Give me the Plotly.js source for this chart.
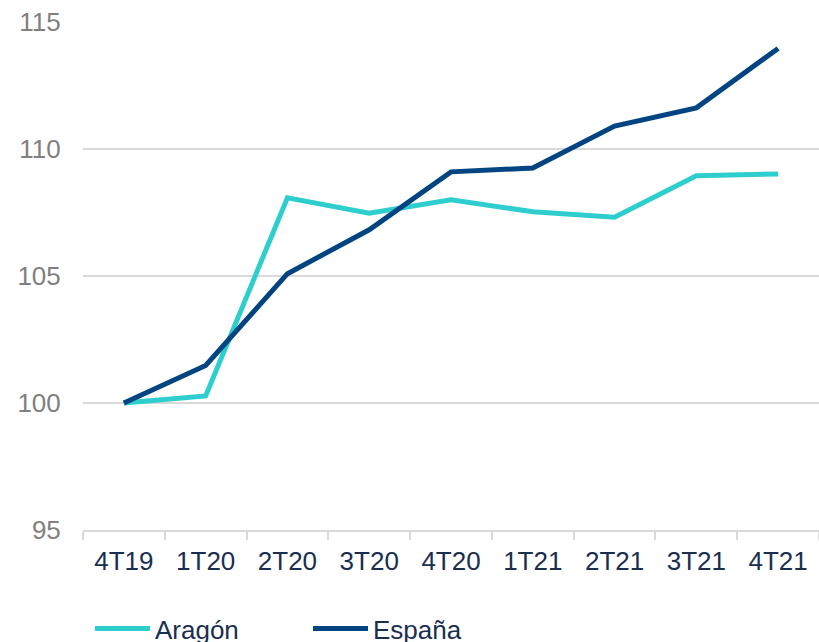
<!DOCTYPE html>
<html>
<head>
<meta charset="utf-8">
<script src="https://cdn.plot.ly/plotly-3.0.1.min.js"></script>
<style>html,body{margin:0;padding:0;background:#fff;}#chart{width:819px;height:642px;}</style>
</head>
<body>
<div id="chart"></div>
<script>
const categories = ["4T19","1T20","2T20","3T20","4T20","1T21","2T21","3T21","4T21"];
const aragon = [100.0, 100.28, 108.08, 107.47, 108.0, 107.53, 107.31, 108.95, 109.02];
const espana = [100.0, 101.48, 105.09, 106.82, 109.1, 109.25, 110.9, 111.62, 113.96];
const yTicks = [95, 100, 105, 110, 115];

const font = "Liberation Sans, Arial, sans-serif";
const traces = [
  {x: categories, y: aragon, name: "Aragón", type: "scatter", mode: "lines",
   line: {color: "#2ECECE", width: 5}},
  {x: categories, y: espana, name: "España", type: "scatter", mode: "lines",
   line: {color: "#004481", width: 5}}
];
const layout = {
  width: 819, height: 642,
  margin: {l: 83, r: 0, t: 22, b: 112, autoexpand: false},
  paper_bgcolor: "#fff", plot_bgcolor: "#fff",
  font: {family: font, size: 26},
  showlegend: true,
  legend: {orientation: "h", x: 0.0095, xanchor: "left", y: -0.148, yanchor: "top",
           font: {family: font, size: 26, color: "#1a2e50"},
           itemwidth: 55, entrywidth: 148, entrywidthmode: "pixels",
           traceorder: "normal", bgcolor: "rgba(0,0,0,0)"},
  xaxis: {type: "category", range: [-0.5, 8.5], tickson: "boundaries", ticks: "outside", ticklen: 8,
          tickcolor: "#d9d9d9", tickwidth: 2, showline: true, linecolor: "#d9d9d9", linewidth: 2,
          showgrid: false, zeroline: false, ticklabelstandoff: 7,
          tickfont: {family: font, size: 26, color: "#1a2e50"}},
  yaxis: {range: [95, 115], tickvals: yTicks, ticktext: yTicks.map(String),
          showgrid: true, gridcolor: "#d9d9d9", gridwidth: 2, zeroline: false,
          showline: false, ticks: "outside", ticklen: 16, tickcolor: "rgba(0,0,0,0)",
          tickfont: {family: font, size: 26, color: "#808080"}}
};
Plotly.newPlot("chart", traces, layout, {displayModeBar: false, staticPlot: true});
</script>
</body>
</html>
